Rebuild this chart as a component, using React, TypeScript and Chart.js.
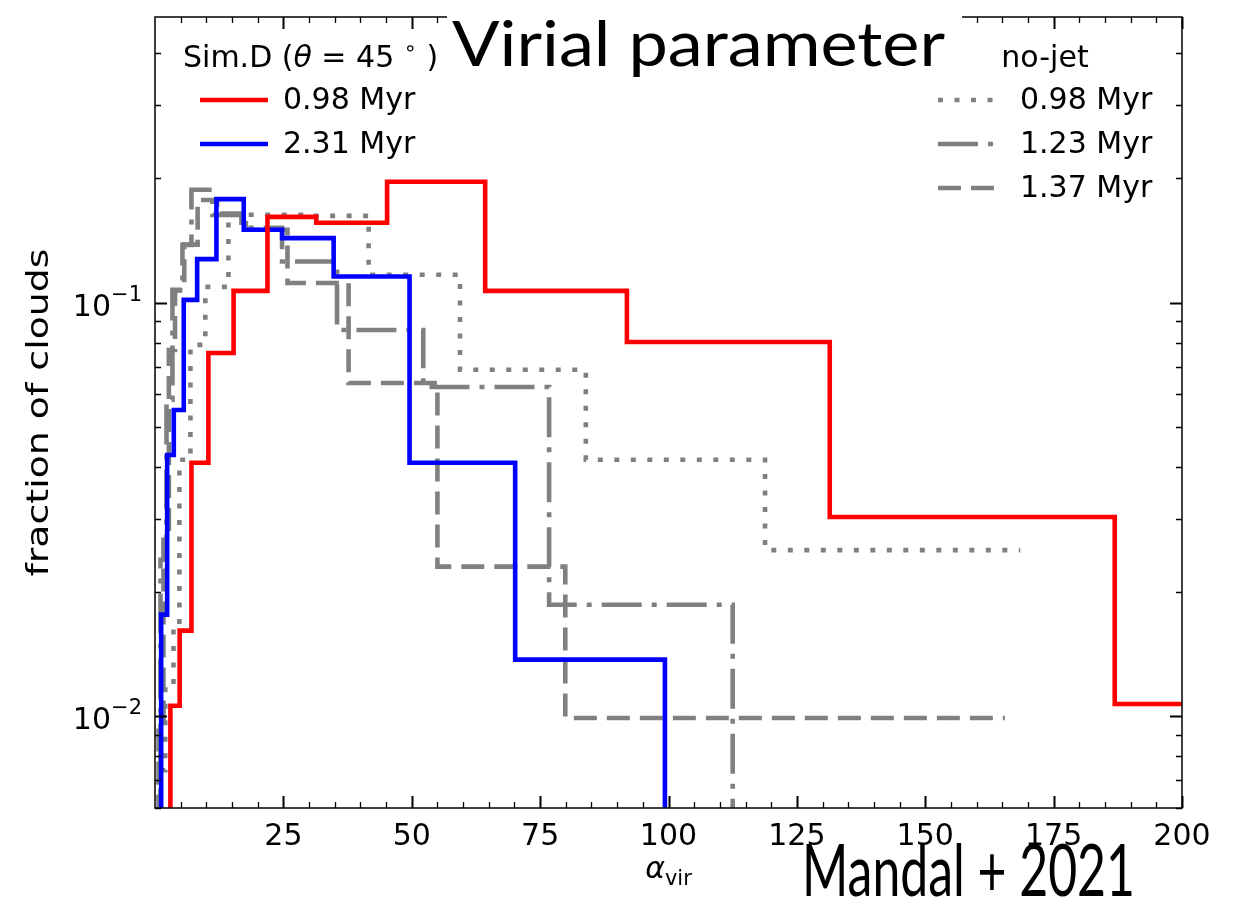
import { useEffect, useRef } from 'react';
import { Chart, registerables } from 'chart.js';

Chart.register(...registerables);

// Histogram bin edges (alpha_vir) and fraction of clouds per bin.
const jetT098Edges = [3.0, 4.8, 7.1, 10.4, 15.3, 21.9, 31.4, 45.2, 64.3, 91.9, 131.4, 186.9, 265];
const jetT098Frac = [0.0106, 0.0161, 0.041, 0.0755, 0.1067, 0.1611, 0.1559, 0.1958, 0.1067, 0.0803, 0.0303, 0.0107];

const jetT231Edges = [1.2, 2.37, 3.66, 5.6, 8.21, 11.96, 17.28, 24.75, 34.79, 49.57, 70.14, 99.3];
const jetT231Frac = [0.0176, 0.0428, 0.055, 0.1015, 0.1273, 0.1778, 0.1499, 0.1431, 0.1156, 0.041, 0.0137];

const noJetT098Edges = [0.7, 2.0, 3.6, 4.75, 6.9, 9.8, 14.3, 20.7, 29.3, 41.6, 59.4, 83.9, 118.8, 168.5];
const noJetT098Frac = [0.0074, 0.0116, 0.0163, 0.0417, 0.079, 0.1091, 0.163, 0.163, 0.162, 0.1167, 0.0688, 0.0417, 0.0252];

const noJetT123Edges = [1.07, 2.24, 3.4, 5.35, 7.1, 11.19, 16.83, 24.75, 35.45, 52.24, 76.75, 112.5];
const noJetT123Frac = [0.0239, 0.0582, 0.1073, 0.1378, 0.1873, 0.1629, 0.1516, 0.1257, 0.0858, 0.0625, 0.0186];

const noJetT137Edges = [0.7, 1.65, 2.7, 3.9, 5.7, 8.3, 12.1, 17.7, 25.8, 37.7, 55.0, 79.9, 165.5];
const noJetT137Frac = [0.0098, 0.0267, 0.0768, 0.107, 0.138, 0.177, 0.164, 0.15, 0.1115, 0.0639, 0.023, 0.0099];

// Axis ranges and tick labels
const xMin = 0;
const xMax = 200;
const xMajorTicks = [25, 50, 75, 100, 125, 150, 175, 200];
const xTickLabels = ['25', '50', '75', '100', '125', '150', '175', '200'];
const yMin = 0.006;
const yMax = 0.49;
const yMajorTicks = [0.01, 0.1];
const yTickExponents = ['\u22122', '\u22121'];

const jetLegendTitle = 'Sim.D';
const noJetLegendTitle = 'no-jet';

const FONT = '"DejaVu Sans"';
const FLOOR = 1e-4; // empty bins fall to zero, below the visible range

function stepPoints(edges: number[], fracs: number[], rise: boolean, drop: boolean) {
  const pts: { x: number; y: number }[] = [];
  if (rise) pts.push({ x: edges[0], y: FLOOR });
  fracs.forEach((f, i) => {
    pts.push({ x: edges[i], y: f });
    pts.push({ x: edges[i + 1], y: f });
  });
  if (drop) pts.push({ x: edges[edges.length - 1], y: FLOOR });
  return pts;
}

const GRAY = '#808080';
const LW = 4.6;
const DOTTED = [5, 11.5];
const DASHDOT = [40, 10, 5, 10];
const DASHED = [23, 10];

function lineDataset(label: string, data: any[], color: string, dash: number[], group: string) {
  return {
    label,
    data,
    borderColor: color,
    backgroundColor: color,
    borderWidth: LW,
    borderDash: dash,
    borderCapStyle: 'butt' as const,
    borderJoinStyle: 'miter' as const,
    pointRadius: 0,
    tension: 0,
    fill: false,
    clip: 0,
    group,
  };
}

type Run = { t: string; font: string; dy?: number };

function runsWidth(ctx: CanvasRenderingContext2D, runs: Run[]) {
  let w = 0;
  for (const r of runs) {
    ctx.font = r.font;
    w += ctx.measureText(r.t).width;
  }
  return w;
}

function drawRuns(ctx: CanvasRenderingContext2D, runs: Run[], x: number, y: number, align: 'left' | 'right' | 'center') {
  const w = runsWidth(ctx, runs);
  let cx = align === 'left' ? x : align === 'right' ? x - w : x - w / 2;
  ctx.textAlign = 'left';
  ctx.textBaseline = 'alphabetic';
  for (const r of runs) {
    ctx.font = r.font;
    ctx.fillText(r.t, cx, y + (r.dy || 0));
    cx += ctx.measureText(r.t).width;
  }
}

// Text squeezed or stretched along its run to span a given length
function drawFitted(ctx: CanvasRenderingContext2D, text: string, font: string, x: number, baseline: number, width: number) {
  ctx.font = font;
  const natural = ctx.measureText(text).width;
  ctx.save();
  ctx.translate(x, baseline);
  ctx.scale(width / natural, 1);
  ctx.textAlign = 'left';
  ctx.textBaseline = 'alphabetic';
  ctx.fillText(text, 0, 0);
  ctx.restore();
}

const frameAndText = {
  id: 'frameAndText',
  afterDraw(chart: any) {
    const ctx: CanvasRenderingContext2D = chart.ctx;
    const { left, right, top, bottom } = chart.chartArea;
    const xs = chart.scales.x;
    const ys = chart.scales.y;
    ctx.save();
    ctx.fillStyle = '#000';
    ctx.strokeStyle = '#000';

    // frame
    ctx.lineWidth = 1.5;
    ctx.strokeRect(left, top, right - left, bottom - top);

    // x ticks, pointing inward on bottom and top
    for (let v = xMin + 5; v <= xMax; v += 5) {
      const px = Math.round(xs.getPixelForValue(v)) + 0.5;
      const len = v % 25 === 0 ? 12 : 6;
      ctx.lineWidth = v % 25 === 0 ? 2 : 1.3;
      ctx.beginPath();
      ctx.moveTo(px, bottom);
      ctx.lineTo(px, bottom - len);
      ctx.moveTo(px, top);
      ctx.lineTo(px, top + len);
      ctx.stroke();
    }

    // y ticks (log), pointing inward on left and right
    const minorY: number[] = [];
    for (const dec of [0.001, 0.01, 0.1]) {
      for (let m = 2; m <= 9; m++) {
        const v = m * dec;
        if (v >= yMin && v <= yMax) minorY.push(v);
      }
    }
    const drawYTick = (v: number, len: number, w: number) => {
      const py = Math.round(ys.getPixelForValue(v)) + 0.5;
      ctx.lineWidth = w;
      ctx.beginPath();
      ctx.moveTo(left, py);
      ctx.lineTo(left + len, py);
      ctx.moveTo(right, py);
      ctx.lineTo(right - len, py);
      ctx.stroke();
    };
    minorY.forEach((v) => drawYTick(v, 6, 1.3));
    yMajorTicks.forEach((v) => drawYTick(v, 12, 2));

    // x tick labels
    ctx.font = `30px ${FONT}`;
    ctx.textAlign = 'center';
    ctx.textBaseline = 'alphabetic';
    xMajorTicks.forEach((v, i) => {
      ctx.fillText(xTickLabels[i], xs.getPixelForValue(v), 845);
    });

    // y tick labels: 10 with a superscript exponent
    yMajorTicks.forEach((v, i) => {
      const py = ys.getPixelForValue(v);
      drawRuns(
        ctx,
        [
          { t: '10', font: `30px ${FONT}` },
          { t: yTickExponents[i], font: `21px ${FONT}`, dy: -15 },
        ],
        142,
        py + 13,
        'right'
      );
    });

    // axis titles
    drawRuns(
      ctx,
      [
        { t: '\u03b1', font: `italic 30px ${FONT}` },
        { t: 'vir', font: `21px ${FONT}`, dy: 7 },
      ],
      (left + right) / 2,
      878,
      'center'
    );
    ctx.save();
    ctx.translate(48, (top + bottom) / 2);
    ctx.rotate(-Math.PI / 2);
    drawFitted(ctx, 'fraction of clouds', `31px ${FONT}`, -164, 0, 328);
    ctx.restore();

    // legends
    const datasets = chart.data.datasets;
    const drawEntry = (ds: any, x0: number, x1: number, y: number, tx: number) => {
      ctx.save();
      ctx.strokeStyle = ds.borderColor;
      ctx.lineWidth = ds.borderWidth;
      ctx.lineCap = 'butt';
      ctx.setLineDash(ds.borderDash || []);
      ctx.beginPath();
      ctx.moveTo(x0, y);
      ctx.lineTo(x1, y);
      ctx.stroke();
      ctx.restore();
      ctx.fillStyle = '#000';
      ctx.font = `30px ${FONT}`;
      ctx.textAlign = 'left';
      ctx.textBaseline = 'middle';
      ctx.fillText(ds.label, tx, y + 1);
    };
    drawRuns(
      ctx,
      [
        { t: jetLegendTitle + ' (', font: `30px ${FONT}` },
        { t: '\u03b8', font: `italic 30px ${FONT}` },
        { t: ' = 45 ', font: `30px ${FONT}` },
        { t: '\u2218', font: `21px ${FONT}`, dy: -12 },
        { t: ' )', font: `30px ${FONT}` },
      ],
      183,
      67,
      'left'
    );
    const jet = datasets.filter((d: any) => d.group === 'jet');
    jet.forEach((ds: any, i: number) => drawEntry(ds, 200, 268, 100 + i * 44, 283));

    ctx.font = `30px ${FONT}`;
    ctx.textAlign = 'center';
    ctx.textBaseline = 'alphabetic';
    ctx.fillText(noJetLegendTitle, 1045, 67);
    const noJet = datasets.filter((d: any) => d.group === 'nojet');
    noJet.forEach((ds: any, i: number) => drawEntry(ds, 938, 1003, 100 + i * 44, 1020));

    // heading over the top of the frame
    ctx.fillStyle = '#fff';
    ctx.fillRect(447, 0, 515, 78);
    ctx.fillStyle = '#000';
    drawFitted(ctx, 'Virial parameter', `62px Lato`, 452, 66, 493);
    drawFitted(ctx, 'Mandal + 2021', `72px Lato`, 802, 896, 333);

    ctx.restore();
  },
};

export default function App() {
  const ref = useRef<HTMLCanvasElement>(null);

  useEffect(() => {
    const datasets = [
      lineDataset('0.98 Myr', stepPoints(jetT098Edges, jetT098Frac, true, false), '#ff0000', [], 'jet'),
      lineDataset('2.31 Myr', stepPoints(jetT231Edges, jetT231Frac, true, true), '#0000ff', [], 'jet'),
      lineDataset('0.98 Myr', stepPoints(noJetT098Edges, noJetT098Frac, true, false), GRAY, DOTTED, 'nojet'),
      lineDataset('1.23 Myr', stepPoints(noJetT123Edges, noJetT123Frac, true, true), GRAY, DASHDOT, 'nojet'),
      lineDataset('1.37 Myr', stepPoints(noJetT137Edges, noJetT137Frac, true, false), GRAY, DASHED, 'nojet'),
    ];
    const chart = new Chart(ref.current as HTMLCanvasElement, {
      type: 'line',
      data: { datasets: datasets as any },
      options: {
        animation: false,
        responsive: false,
        devicePixelRatio: 1,
        layout: { padding: { left: 0, right: 51, top: 17, bottom: 0 } },
        plugins: { legend: { display: false }, tooltip: { enabled: false }, title: { display: false } },
        scales: {
          x: {
            type: 'linear',
            min: xMin,
            max: xMax,
            grid: { display: false },
            border: { display: false },
            ticks: { display: false },
            afterFit: (s: any) => {
              s.height = 99;
            },
          },
          y: {
            type: 'logarithmic',
            min: yMin,
            max: yMax,
            grid: { display: false },
            border: { display: false },
            ticks: { display: false },
            afterFit: (s: any) => {
              s.width = 155;
            },
          },
        },
      },
      plugins: [frameAndText],
    });
    return () => chart.destroy();
  }, []);

  return (
    <div style={{ position: 'absolute', left: 0, top: 0, width: 1233, height: 907, background: '#fff' }}>
      <canvas ref={ref} width={1233} height={907} style={{ display: 'block', width: 1233, height: 907 }} />
    </div>
  );
}
